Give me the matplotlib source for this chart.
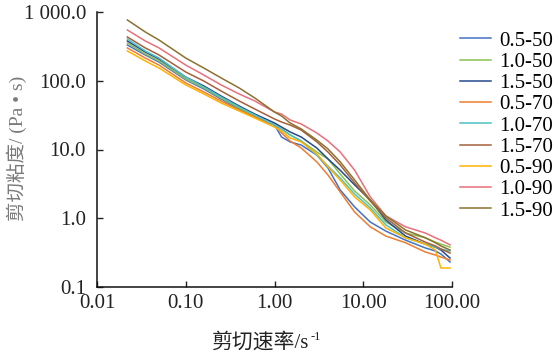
import matplotlib
matplotlib.use("Agg")
import matplotlib.pyplot as plt
from matplotlib.ticker import FixedLocator, FixedFormatter, NullLocator

plt.rcParams["font.family"] = ["Liberation Serif", "Noto Sans CJK SC"]

# shear rate (s^-1), same sampling for every curve
rate = [0.022, 0.035, 0.05, 0.1, 0.16, 0.25, 0.4, 0.6, 1.0, 1.2, 1.5, 2, 3, 4,
        5.5, 8, 12, 18, 30, 50, 65, 75, 95]

# shear viscosity (Pa*s)
visc_05_50 = [331, 237, 187, 103, 75.9, 54.3, 38.8, 29.7, 22.7, 15.2, 12.9, 11.6,
              8.3, 5.4, 2.58, 1.46, 0.88, 0.65, 0.48, 0.37, 0.334, 0.302, 0.231]
visc_10_50 = [354, 245, 194, 106, 78.5, 56.1, 40.1, 30.7, 22.7, 19.9, 16.3, 13.3,
              9.2, 7.3, 4.4, 2.49, 1.56, 0.88, 0.61, 0.52, 0.45, 0.42, 0.38]
visc_15_50 = [379, 262, 207, 113, 84, 60, 42.9, 32.8, 24.3, 21.2, 18.0, 15.2,
              10.5, 7.3, 5.0, 3.05, 1.84, 0.94, 0.55, 0.42, 0.38, 0.345, 0.264]
visc_05_70 = [300, 214, 169, 93, 68.6, 50.8, 37.5, 29.7, 22.7, 17.4, 13.3, 10.5,
              6.6, 4.26, 2.41, 1.23, 0.75, 0.55, 0.44, 0.323, 0.292, 0.273, 0.247]
visc_10_70 = [405, 271, 214, 113, 81, 58, 41.5, 31.8, 22.7, 19.9, 16.3, 13.3,
              8.3, 5.75, 3.85, 2.25, 1.41, 0.80, 0.52, 0.42, 0.38, 0.357, 0.334]
visc_15_70 = [433, 300, 237, 134, 99, 71, 50.8, 38.8, 27.8, 25.1, 22.7, 19.2,
              12.9, 9.2, 5.95, 3.26, 1.78, 1.01, 0.61, 0.45, 0.395, 0.357, 0.312]
visc_05_90 = [271, 194, 153, 87, 64.2, 47.5, 36.3, 28.7, 21.2, 18.6, 14.7, 12.9,
              8.6, 5.6, 3.6, 2.04, 1.32, 0.72, 0.52, 0.42, 0.345, 0.189, 0.189]
visc_10_90 = [547, 379, 300, 169, 121, 87, 64.2, 50.8, 35.1, 32.8, 26.9, 23.5,
              17.4, 13.3, 9.2, 5.0, 2.04, 1.08, 0.75, 0.61, 0.52, 0.48, 0.41]
visc_15_90 = [765, 512, 391, 214, 153, 110, 78.5, 56.1, 35.1, 30.7, 24.3, 19.9,
              13.7, 10.2, 6.6, 3.6, 1.84, 1.08, 0.675, 0.52, 0.44, 0.395, 0.345]

labels = ["0.5-50", "1.0-50", "1.5-50", "0.5-70", "1.0-70", "1.5-70", "0.5-90", "1.0-90", "1.5-90"]
series = [visc_05_50, visc_10_50, visc_15_50, visc_05_70, visc_10_70,
          visc_15_70, visc_05_90, visc_10_90, visc_15_90]
colors = ["#4472C4", "#8CC152", "#264A8C", "#ED7D31", "#4FC1C4",
          "#A5603A", "#FFB300", "#E8707A", "#8C7230"]

x_ticks = [0.01, 0.1, 1, 10, 100]
x_ticklabels = ["0.01", "0.10", "1.00", "10.00", "100.00"]
y_ticks = [0.1, 1, 10, 100, 1000]
y_ticklabels = ["0.1", "1.0", "10.0", "100.0", "1 000.0"]

W, H = 559, 358
fig = plt.figure(figsize=(W / 100, H / 100), dpi=100)
ax = fig.add_axes([97 / W, 1 - 287 / H, 355 / W, 275 / H])

for vals, lab, col in zip(series, labels, colors):
    ax.plot(rate, vals, color=col, lw=1.1, label=lab)

ax.set_xscale("log")
ax.set_yscale("log")
ax.set_xlim(0.01, 100)
ax.set_ylim(0.1, 1000)

ax.xaxis.set_major_locator(FixedLocator(x_ticks))
ax.xaxis.set_major_formatter(FixedFormatter(x_ticklabels))
ax.xaxis.set_minor_locator(NullLocator())
ax.yaxis.set_major_locator(FixedLocator(y_ticks))
ax.yaxis.set_major_formatter(FixedFormatter(y_ticklabels))
ax.yaxis.set_minor_locator(NullLocator())

for side in ("top", "right"):
    ax.spines[side].set_visible(False)
for side in ("left", "bottom"):
    ax.spines[side].set_linewidth(1.1)
    ax.spines[side].set_color("#111111")

ax.tick_params(axis="both", direction="in", length=4.5, width=1.0,
               labelsize=15, colors="#222222")
ax.tick_params(axis="y", pad=8)
ax.tick_params(axis="x", pad=5)

# axis titles
fig.text(17 / W, 1 - 148 / H, "剪切粘度/ (Pa • s)", rotation=90, fontsize=14,
         color="#7a7a7a", ha="center", va="center")
xl = fig.text(212 / W, 1 - 343 / H, "剪切速率/s", fontsize=15, color="#222222",
              ha="left", va="center")
fig.canvas.draw()
bb = xl.get_window_extent()
fig.text(bb.x1 / W + 0.002, 1 - 337 / H, "-1", fontsize=9, color="#222222",
         ha="left", va="center")

fig.legend(loc="upper left", bbox_to_anchor=(460 / W, 1 - 31 / H),
           frameon=False, fontsize=15, handlelength=1.5, handletextpad=0.4,
           labelspacing=0.08, borderpad=0, borderaxespad=0)

fig.savefig("out.png", dpi=100)
